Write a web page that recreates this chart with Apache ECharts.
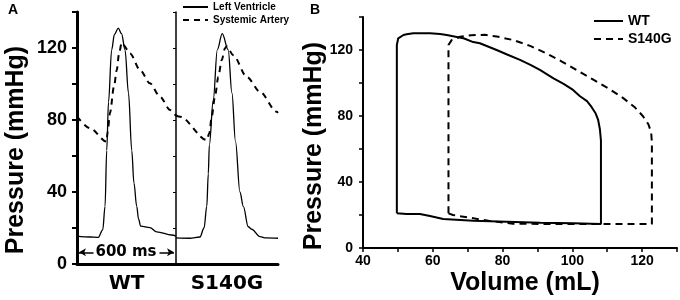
<!DOCTYPE html>
<html>
<head>
<meta charset="utf-8">
<script src="https://cdn.jsdelivr.net/npm/echarts@6/dist/echarts.min.js"></script>
<style>
  html, body { margin: 0; padding: 0; background: #fff; }
  #chart { width: 680px; height: 300px; }
</style>
</head>
<body>
<div id="chart"></div>
<script>
// Panel A : pressure traces (ms, mmHg), one 600 ms beat per genotype
const lvTimeWT = [0, 79, 129, 156, 170, 180, 191, 210, 227, 250, 270, 291, 312, 332, 345, 362, 373, 386, 442, 483, 574, 600];
const lvWT = [15.5, 15, 14.8, 19, 32, 63, 90, 119, 127.5, 131, 128, 119, 95, 63, 45, 32, 25, 21, 20.2, 17.9, 16.1, 15.5];
const artTimeWT = [0, 79, 179, 186, 200, 224, 241, 255, 271, 281, 321, 382, 442, 503, 564, 600];
const artWT = [82, 75.4, 68, 73.5, 84, 98.5, 107.8, 117, 123, 121.7, 117, 107.8, 100.4, 93, 85.6, 82.3];

const lvTimeS = [0, 82, 141, 165, 181, 190, 196, 219, 243, 272, 307, 329, 350, 376, 396, 425, 445, 494, 529, 600];
const lvS = [14.5, 14.3, 15, 20, 32, 50, 66, 91, 119, 128, 119, 95, 68, 40, 32, 20.7, 19.3, 15.2, 14.5, 14.3];
const artTimeS = [0, 24, 181, 196, 210, 229, 249, 269, 288, 298, 337, 416, 494, 592, 600];
const artS = [82.5, 81.8, 68.9, 72.6, 81.8, 93, 104, 113.3, 119.8, 121, 116, 104, 95.7, 84.6, 84];

// "600 ms" span arrows (ms, mmHg)
const arrowLeft = [[100, 6.5], [12, 6.5]];
const arrowRight = [[500, 6.5], [588, 6.5]];

// Panel B : pressure-volume loops (mL, mmHg)
const wtVolume = [49.7, 52.5, 56.3, 59.2, 63, 71.6, 81.2, 90.8, 100.3, 108.2, 108.2, 107.9, 107.4, 106.7, 105.5, 104.2, 102.2, 100.2, 97.5, 94.6, 90.7, 88, 85, 81.3, 78.3, 73.5, 71.6, 68.8, 66.9, 64, 62.1, 59.2, 57.3, 54.4, 52.5, 51.6, 50.1, 49.7, 49.7];
const wtPressure = [21, 20.6, 20.6, 19.4, 17.6, 16.5, 15.9, 15.3, 15, 14.5, 65, 72, 77.6, 81.5, 85.5, 89, 92, 95.8, 99.5, 102.8, 107.9, 111, 114, 117.3, 120, 124.1, 124.8, 127.1, 127.9, 129.1, 129.7, 130.1, 130.1, 130.1, 129.5, 129.1, 127.1, 123, 21];
const s140gVolume = [64.5, 64.5, 65.4, 67.8, 71, 75, 78.3, 83.1, 87.9, 92.5, 97, 101.5, 106, 110.5, 114.5, 117.8, 120.2, 121.8, 122.6, 122.8, 122.8, 100, 83, 76, 71.6, 65.8, 64.5];
const s140gPressure = [21, 123, 126, 128, 129, 129.2, 128.2, 126, 122.5, 118, 113, 107.5, 102, 96.5, 91, 85.5, 80, 75, 70, 64, 14.5, 14.5, 14.7, 16.5, 18, 20, 21];

const pressureLabels = [0, 40, 80, 120];
const volumeLabels = [40, 60, 80, 100, 120];

const zip = (xs, ys) => xs.map((x, i) => [x, ys[i]]);

const BOLD_ARIAL = { fontFamily: "Liberation Sans", fontWeight: "bold", color: "#000" };
const BOLD_VERDANA = { fontFamily: "DejaVu Sans", fontWeight: "bold", color: "#000" };

function timeAxis(gridIndex, name) {
  return {
    type: "value",
    gridIndex: gridIndex,
    min: 0,
    max: 600,
    name: name,
    nameLocation: "middle",
    nameGap: 10,
    nameTextStyle: Object.assign({ fontSize: 20 }, BOLD_VERDANA),
    axisLine: { show: true, lineStyle: { color: "#000", width: 3 } },
    axisTick: { show: false },
    axisLabel: { show: false },
    splitLine: { show: false },
  };
}

function pressureAxis(gridIndex, opts) {
  return Object.assign(
    {
      type: "value",
      gridIndex: gridIndex,
      min: 0,
      max: 140,
      interval: 20,
      axisLine: { show: true, lineStyle: { color: "#000", width: 2 } },
      axisTick: { show: true, length: 4, lineStyle: { color: "#000", width: 1.5 } },
      splitLine: { show: false },
    },
    opts
  );
}

const chart = echarts.init(document.getElementById("chart"));

const option = {
  animation: false,
  backgroundColor: "#fff",
  grid: [
    { left: 77, top: 12, width: 99, height: 252 },
    { left: 176, top: 12, width: 102, height: 252 },
    { left: 363, top: 17, width: 314, height: 231 },
  ],
  xAxis: [
    timeAxis(0, "WT"),
    timeAxis(1, "S140G"),
    {
      type: "value",
      gridIndex: 2,
      min: 40,
      max: 130,
      interval: 10,
      axisLine: { show: true, lineStyle: { color: "#000", width: 2 } },
      axisTick: { show: true, length: 4, lineStyle: { color: "#000", width: 1.5 } },
      axisLabel: Object.assign(
        {
          fontSize: 14,
          margin: 6,
          formatter: (v) => (volumeLabels.includes(v) ? String(v) : ""),
        },
        BOLD_ARIAL
      ),
      splitLine: { show: false },
    },
  ],
  yAxis: [
    pressureAxis(0, {
      axisLine: { show: true, lineStyle: { color: "#000", width: 3 } },
      axisTick: { show: true, length: 5, lineStyle: { color: "#000", width: 2 } },
      axisLabel: Object.assign(
        {
          fontSize: 18,
          margin: 10,
          formatter: (v) => (pressureLabels.includes(v) ? String(v) : ""),
        },
        BOLD_ARIAL
      ),
    }),
    pressureAxis(1, {
      axisLine: { show: true, lineStyle: { color: "#000", width: 1.5 } },
      axisTick: { show: true, length: 3, lineStyle: { color: "#000", width: 1 } },
      axisLabel: { show: false },
    }),
    pressureAxis(2, {
      axisLabel: Object.assign(
        {
          fontSize: 14,
          margin: 10,
          formatter: (v) => (pressureLabels.includes(v) ? String(v) : ""),
        },
        BOLD_ARIAL
      ),
    }),
  ],
  legend: [
    {
      data: ["Left Ventricle", "Systemic Artery"],
      orient: "vertical",
      left: 182,
      top: 2,
      padding: 0,
      itemWidth: 25,
      itemHeight: 10,
      itemGap: 3,
      itemStyle: { opacity: 0 },
      lineStyle: { width: 2 },
      textStyle: Object.assign({ fontSize: 10 }, BOLD_ARIAL),
      selectedMode: false,
    },
    {
      data: ["WT", "S140G"],
      orient: "vertical",
      left: 593,
      top: 14,
      padding: 0,
      itemWidth: 29,
      itemHeight: 14,
      itemGap: 4,
      itemStyle: { opacity: 0 },
      textStyle: Object.assign({ fontSize: 14 }, BOLD_ARIAL),
      selectedMode: false,
    },
  ],
  graphic: [
    { type: "text", left: 8, top: 3, style: Object.assign({ text: "A", fontSize: 14 }, BOLD_ARIAL, { fill: "#000" }) },
    { type: "text", left: 310, top: 3, style: Object.assign({ text: "B", fontSize: 14 }, BOLD_ARIAL, { fill: "#000" }) },
    {
      type: "text",
      x: 16,
      y: 150,
      rotation: Math.PI / 2,
      style: Object.assign({ text: "Pressure (mmHg)", fontSize: 25, align: "center", verticalAlign: "middle" }, BOLD_ARIAL, { fill: "#000" }),
    },
    {
      type: "text",
      x: 314,
      y: 146,
      rotation: Math.PI / 2,
      style: Object.assign({ text: "Pressure (mmHg)", fontSize: 25, align: "center", verticalAlign: "middle" }, BOLD_ARIAL, { fill: "#000" }),
    },
    {
      type: "text",
      x: 525,
      y: 283,
      style: Object.assign({ text: "Volume (mL)", fontSize: 25, align: "center", verticalAlign: "middle" }, BOLD_ARIAL, { fill: "#000" }),
    },
    {
      type: "text",
      x: 126,
      y: 252,
      style: Object.assign({ text: "600 ms", fontSize: 15, align: "center", verticalAlign: "middle" }, BOLD_VERDANA, { fill: "#000" }),
    },
  ],
  series: [
    {
      name: "Left Ventricle",
      type: "line",
      xAxisIndex: 0,
      yAxisIndex: 0,
      data: zip(lvTimeWT, lvWT),
      symbol: "none",
      smooth: 0.35,
      smoothMonotone: "x",
      lineStyle: { color: "#000", width: 1.3 },
      itemStyle: { color: "#000" },
      markLine: {
        silent: true,
        symbol: ["none", "arrow"],
        symbolSize: [6, 7],
        label: { show: false },
        lineStyle: { color: "#000", width: 1.5, type: "solid" },
        data: [
          [{ coord: arrowLeft[0] }, { coord: arrowLeft[1] }],
          [{ coord: arrowRight[0] }, { coord: arrowRight[1] }],
        ],
      },
    },
    {
      name: "Systemic Artery",
      type: "line",
      xAxisIndex: 0,
      yAxisIndex: 0,
      data: zip(artTimeWT, artWT),
      symbol: "none",
      smooth: 0.3,
      smoothMonotone: "x",
      lineStyle: { color: "#000", width: 2, type: [6, 5] },
      itemStyle: { color: "#000" },
    },
    {
      name: "Left Ventricle",
      type: "line",
      xAxisIndex: 1,
      yAxisIndex: 1,
      data: zip(lvTimeS, lvS),
      symbol: "none",
      smooth: 0.35,
      smoothMonotone: "x",
      lineStyle: { color: "#000", width: 1.3 },
      itemStyle: { color: "#000" },
    },
    {
      name: "Systemic Artery",
      type: "line",
      xAxisIndex: 1,
      yAxisIndex: 1,
      data: zip(artTimeS, artS),
      symbol: "none",
      smooth: 0.3,
      smoothMonotone: "x",
      lineStyle: { color: "#000", width: 2, type: [6, 5] },
      itemStyle: { color: "#000" },
    },
    {
      name: "WT",
      type: "line",
      xAxisIndex: 2,
      yAxisIndex: 2,
      data: zip(wtVolume, wtPressure),
      symbol: "none",
      smooth: false,
      lineStyle: { color: "#000", width: 2 },
      itemStyle: { color: "#000" },
    },
    {
      name: "S140G",
      type: "line",
      xAxisIndex: 2,
      yAxisIndex: 2,
      data: zip(s140gVolume, s140gPressure),
      symbol: "none",
      smooth: false,
      lineStyle: { color: "#000", width: 2, type: [7, 5] },
      itemStyle: { color: "#000" },
    },
  ],
};

chart.setOption(option);
</script>
</body>
</html>
